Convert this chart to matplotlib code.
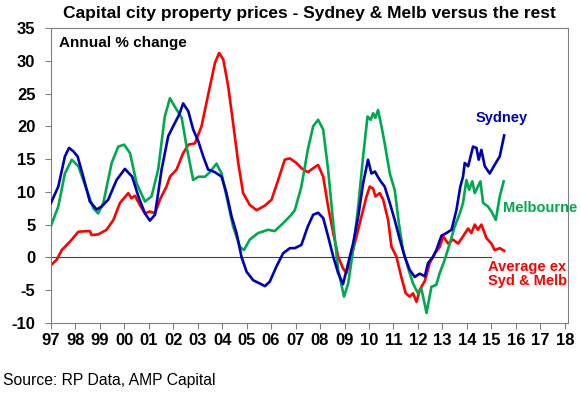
import matplotlib.pyplot as plt
import numpy as np

plt.rcParams['font.family'] = ['Liberation Sans', 'DejaVu Sans']
plt.rcParams['axes.unicode_minus'] = False

# values (decimal years, annual % change)
syd_x = [1997.01, 1997.31, 1997.58, 1997.75, 1997.92, 1998.1, 1998.33, 1998.6, 1998.88,
         1999.08, 1999.35, 1999.69, 2000.03, 2000.33, 2000.58, 2000.85, 2001.05, 2001.26,
         2001.53, 2001.8, 2002.07, 2002.25, 2002.41, 2002.62, 2002.82, 2003.03, 2003.23,
         2003.43, 2003.71, 2003.98, 2004.18, 2004.39, 2004.59, 2004.79, 2005.0, 2005.27,
         2005.54, 2005.75, 2005.95, 2006.22, 2006.49, 2006.77, 2006.97, 2007.24, 2007.5,
         2007.72, 2007.92, 2008.13, 2008.33, 2008.54, 2008.74, 2008.94, 2009.15, 2009.35,
         2009.56, 2009.76, 2009.96, 2010.1, 2010.24, 2010.44, 2010.64, 2010.85, 2011.05,
         2011.26, 2011.46, 2011.66, 2011.87, 2012.07, 2012.28, 2012.41, 2012.62, 2012.75,
         2012.96, 2013.16, 2013.37, 2013.57, 2013.73, 2013.84, 2013.91, 2014.05, 2014.25,
         2014.39, 2014.48, 2014.59, 2014.73, 2014.93, 2015.13, 2015.34, 2015.52]
syd_y = [8.3, 10.8, 15.4, 16.7, 16.2, 15.4, 12.3, 8.5, 7.3,
         7.75, 8.8, 11.8, 13.5, 12.3, 9.3, 6.7, 5.6, 6.5,
         13.4, 18.5, 20.5, 21.8, 23.5, 22.3, 19.5, 17.7, 15.4,
         13.4, 13.0, 12.3, 9.8, 6.2, 3.7, 0.1, -2.2, -3.5,
         -4.0, -4.4, -3.7, -1.4, 0.6, 1.4, 1.4, 1.9, 4.7,
         6.5, 6.8, 6.0, 3.2, 0.1, -2.4, -4.1, -0.9, 2.1,
         6.2, 11.3, 14.9, 12.8, 13.1, 11.8, 10.8, 8.3, 5.7,
         2.7, 0.1, -1.9, -3.0, -2.5, -2.9, -0.9, 0.1, 1.1,
         3.3, 3.7, 4.2, 7.2, 10.8, 12.3, 14.4, 13.9, 16.9,
         16.7, 14.9, 16.4, 13.9, 12.8, 14.1, 15.4, 18.6]

mel_x = [1997.01, 1997.31, 1997.58, 1997.86, 1998.13, 1998.47, 1998.74, 1998.94, 1999.15,
         1999.49, 1999.76, 2000.0, 2000.24, 2000.51, 2000.85, 2001.12, 2001.39, 2001.66,
         2001.87, 2002.07, 2002.35, 2002.55, 2002.82, 2003.03, 2003.3, 2003.5, 2003.77,
         2003.98, 2004.18, 2004.45, 2004.73, 2004.89, 2005.13, 2005.47, 2005.88, 2006.15,
         2006.49, 2006.83, 2006.97, 2007.24, 2007.5, 2007.72, 2007.92, 2008.13, 2008.33,
         2008.54, 2008.74, 2008.98, 2009.15, 2009.35, 2009.56, 2009.76, 2009.94, 2010.07,
         2010.17, 2010.26, 2010.37, 2010.51, 2010.64, 2010.85, 2011.05, 2011.22, 2011.39,
         2011.6, 2011.8, 2012.0, 2012.14, 2012.21, 2012.35, 2012.55, 2012.75, 2012.89,
         2013.09, 2013.3, 2013.5, 2013.71, 2013.84, 2013.98, 2014.09, 2014.22, 2014.32,
         2014.55, 2014.66, 2014.86, 2015.0, 2015.18, 2015.34, 2015.5]
mel_y = [4.8, 7.75, 12.8, 14.9, 13.9, 10.3, 7.5, 6.7, 8.3,
         14.4, 16.9, 17.2, 15.9, 11.3, 8.5, 9.3, 13.4, 21.5,
         24.3, 23.0, 21.3, 16.9, 11.8, 12.3, 12.3, 13.0, 14.3,
         12.8, 9.3, 4.7, 1.6, 1.1, 2.7, 3.7, 4.2, 4.0,
         5.2, 6.5, 7.2, 10.8, 16.4, 20.0, 21.0, 19.5, 13.4,
         5.2, -1.9, -6.0, -4.0, 1.1, 7.75, 15.4, 21.5, 21.0,
         22.0, 21.3, 22.5, 20.0, 17.4, 12.8, 10.3, 5.2, 1.1,
         -1.7, -4.0, -5.5, -4.8, -6.0, -8.5, -4.5, -4.2, -2.4,
         -0.4, 2.1, 4.7, 6.7, 8.3, 11.8, 10.3, 11.6, 9.8,
         11.6, 8.3, 7.75, 7.0, 5.7, 9.3, 11.6]

avg_x = [1997.01, 1997.24, 1997.45, 1997.79, 1998.13, 1998.47, 1998.6, 1998.67, 1998.94,
         1999.28, 1999.56, 1999.83, 2000.17, 2000.3, 2000.44, 2000.64, 2000.85, 2001.05,
         2001.26, 2001.46, 2001.73, 2001.87, 2002.14, 2002.41, 2002.62, 2002.89, 2003.16,
         2003.43, 2003.71, 2003.88, 2004.05, 2004.25, 2004.45, 2004.66, 2004.86, 2005.13,
         2005.41, 2005.75, 2006.02, 2006.29, 2006.56, 2006.77, 2007.04, 2007.24, 2007.5,
         2007.72, 2007.92, 2008.13, 2008.33, 2008.54, 2008.74, 2008.94, 2009.08, 2009.28,
         2009.49, 2009.69, 2009.9, 2010.03, 2010.17, 2010.26, 2010.44, 2010.58, 2010.78,
         2010.92, 2011.12, 2011.32, 2011.5, 2011.66, 2011.8, 2011.94, 2012.07, 2012.28,
         2012.48, 2012.69, 2012.89, 2013.03, 2013.23, 2013.43, 2013.64, 2013.84, 2014.05,
         2014.18, 2014.32, 2014.45, 2014.59, 2014.8, 2015.0, 2015.13, 2015.34, 2015.52]
avg_y = [-1.2, -0.4, 1.1, 2.4, 3.9, 4.0, 4.0, 3.4, 3.5,
         4.2, 5.7, 8.3, 9.8, 9.0, 9.4, 8.0, 6.7, 7.0,
         6.7, 8.8, 10.8, 12.3, 13.4, 15.9, 17.2, 17.4, 20.0,
         24.8, 29.7, 31.2, 30.2, 26.1, 20.5, 14.4, 9.8, 8.0,
         7.2, 7.9, 8.8, 11.8, 14.9, 15.1, 14.4, 13.6, 13.0,
         13.6, 14.1, 12.3, 7.75, 3.7, 0.1, -1.7, -2.4, 0.1,
         3.2, 6.2, 9.3, 10.8, 10.5, 9.3, 9.8, 8.8, 5.7,
         1.6, 0.1, -3.0, -5.5, -6.0, -5.5, -6.8, -5.0, -3.6,
         -0.9, 0.6, 1.6, 3.2, 2.1, 2.7, 2.1, 3.2, 4.4,
         3.7, 5.0, 4.2, 5.0, 2.9, 2.1, 1.1, 1.4, 1.0]

year_ticks = list(range(1997, 2019))
year_labels = ['%02d' % (y % 100) for y in year_ticks]

fig = plt.figure(figsize=(5.8, 4.01), dpi=100)
ax = fig.add_axes([0.0874, 0.195, 0.892, 0.735])

ax.plot([1997, 2015], [0, 0], color='#404040', lw=0.8, zorder=1)
ax.plot(avg_x, avg_y, color='#ff0000', lw=1.9, zorder=2)
ax.plot(mel_x, mel_y, color='#00a84f', lw=1.9, zorder=3)
ax.plot(syd_x, syd_y, color='#0000b4', lw=1.9, zorder=4)

ax.set_xlim(1997, 2018.13)
ax.set_ylim(-10, 35)
ax.set_yticks(range(-10, 40, 5))
ax.set_xticks(year_ticks)
ax.set_xticklabels(year_labels)
ax.tick_params(axis='both', direction='out', length=4, width=0.8, color='#808080',
               labelsize=12, pad=3)
ax.tick_params(axis='y', pad=7)
for lab in ax.get_xticklabels() + ax.get_yticklabels():
    lab.set_fontweight('bold')
for s in ax.spines.values():
    s.set_color('#808080')
    s.set_linewidth(0.8)

ax.text(0.017, 0.95, 'Annual % change', transform=ax.transAxes, fontsize=11,
        fontweight='bold', va='center', ha='left')
ax.text(2014.36, 21.3, 'Sydney', color='#0000b4', fontsize=10.5, fontweight='bold',
        va='center', ha='left')
ax.text(2015.47, 7.5, 'Melbourne', color='#00a84f', fontsize=10.5, fontweight='bold',
        va='center', ha='left')
ax.text(2014.86, -2.5, 'Average ex\nSyd & Melb', color='#ff0000', fontsize=10.5,
        fontweight='bold', va='center', ha='left', linespacing=1.0)

fig.text(0.533, 0.967, 'Capital city property prices - Sydney & Melb versus the rest',
         fontsize=12.5, fontweight='bold', ha='center', va='center')
fig.text(0.006, 0.052, 'Source: RP Data, AMP Capital', fontsize=11.3, ha='left', va='center')

fig.savefig('out.png', dpi=100)
